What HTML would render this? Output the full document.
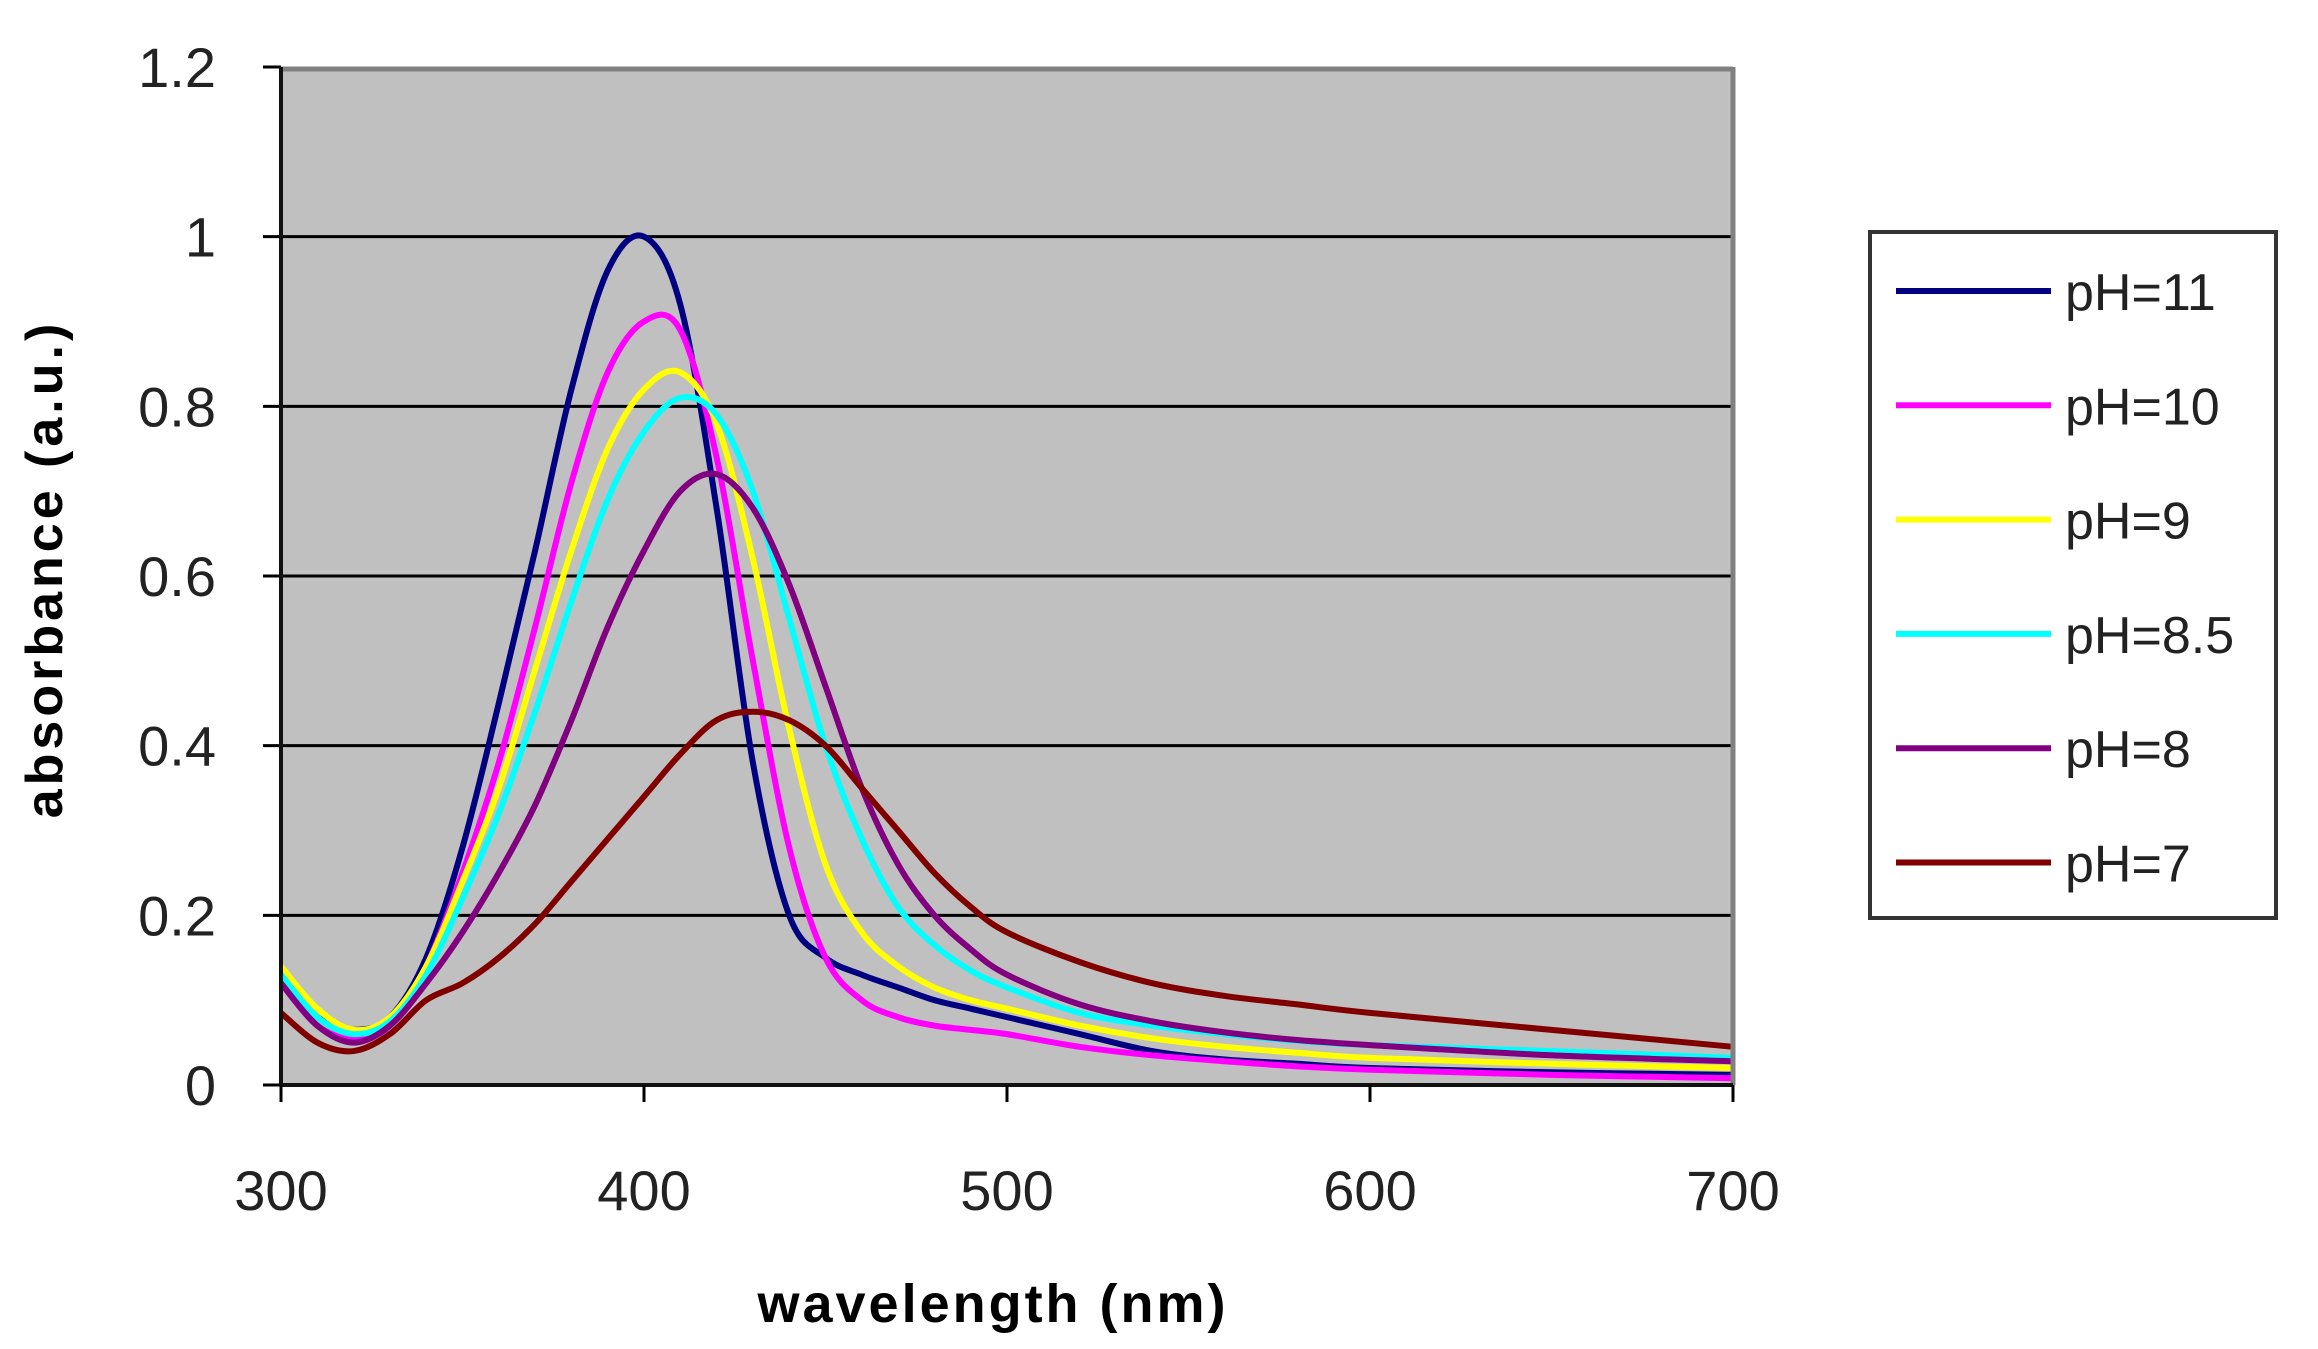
<!DOCTYPE html>
<html><head><meta charset="utf-8"><style>
html,body{margin:0;padding:0;background:#fff;}
svg{display:block;font-family:"Liberation Sans",Arial,sans-serif;}
</style></head><body>
<svg id="chart" width="2318" height="1349" viewBox="0 0 2318 1349">
<rect x="281" y="67" width="1452" height="1018" fill="#c0c0c0"/>
<g id="grid"></g><g id="series"></g><g id="axes"></g><g id="legend"></g>
<text x="62" y="569" transform="rotate(-90 62 569)" text-anchor="middle" font-weight="bold" font-size="52" letter-spacing="4" fill="#000">absorbance (a.u.)</text>
<text x="993" y="1322" text-anchor="middle" font-weight="bold" font-size="54" letter-spacing="3" fill="#000">wavelength (nm)</text>
</svg>
<script>
const wavelengths=[300,310,320,330,340,350,360,370,380,390,400,410,420,430,440,450,460,470,480,490,500,520,540,560,580,600,650,700];
const pH11=[0.12,0.08,0.065,0.08,0.15,0.28,0.45,0.63,0.82,0.96,1.0,0.92,0.68,0.38,0.2,0.15,0.13,0.115,0.1,0.09,0.08,0.06,0.04,0.03,0.025,0.02,0.015,0.012];
const pH10=[0.12,0.07,0.055,0.07,0.14,0.25,0.38,0.54,0.71,0.84,0.9,0.89,0.74,0.5,0.28,0.15,0.1,0.08,0.07,0.065,0.06,0.045,0.035,0.028,0.022,0.018,0.012,0.008];
const pH9=[0.14,0.09,0.065,0.08,0.14,0.24,0.35,0.49,0.63,0.75,0.82,0.84,0.78,0.62,0.42,0.26,0.18,0.14,0.115,0.1,0.09,0.07,0.055,0.045,0.038,0.032,0.025,0.02];
const pH85=[0.13,0.08,0.06,0.075,0.13,0.22,0.32,0.44,0.57,0.69,0.77,0.81,0.79,0.7,0.55,0.4,0.29,0.21,0.165,0.135,0.115,0.085,0.07,0.06,0.052,0.047,0.04,0.032];
const pH8=[0.12,0.07,0.05,0.07,0.12,0.18,0.25,0.33,0.43,0.54,0.63,0.7,0.72,0.68,0.59,0.47,0.35,0.26,0.2,0.16,0.13,0.095,0.075,0.062,0.053,0.047,0.035,0.028];
const pH7=[0.085,0.05,0.04,0.06,0.1,0.12,0.15,0.19,0.24,0.29,0.34,0.39,0.43,0.44,0.43,0.4,0.35,0.3,0.25,0.21,0.18,0.145,0.12,0.105,0.095,0.085,0.065,0.045];
const seriesNames=["pH=11","pH=10","pH=9","pH=8.5","pH=8","pH=7"];
const seriesColors=["#000080","#ff00ff","#ffff00","#00ffff","#800080","#800000"];
const yTicks=[0,0.2,0.4,0.6,0.8,1,1.2];
const yTickLabels=["0","0.2","0.4","0.6","0.8","1","1.2"];
const xTicks=[300,400,500,600,700];
const xTickLabels=["300","400","500","600","700"];
const allSeries=[pH11,pH10,pH9,pH85,pH8,pH7];

const L=281,R=1733,T=67,B=1085;
const xs=v=>L+(v-300)/400*(R-L);
const ys=v=>B-v/1.2*(B-T);
const NS="http://www.w3.org/2000/svg";
function mk(tag,attrs,parent){const e=document.createElementNS(NS,tag);for(const k in attrs)e.setAttribute(k,attrs[k]);parent.appendChild(e);return e;}
const grid=document.getElementById('grid'),axes=document.getElementById('axes'),ser=document.getElementById('series'),leg=document.getElementById('legend');

yTicks.forEach((t,i)=>{
  const y=ys(t);
  if(t>0&&t<1.2){const g=mk('line',{x1:L,x2:R,y1:y,y2:y,stroke:'#000','stroke-width':3},grid);
  
  }
  const tk=mk('line',{x1:263,x2:L,y1:y,y2:y,stroke:'#000','stroke-width':3},axes);
  
  
  const tx=mk('text',{x:216,y:y+20,'text-anchor':'end','font-size':56,fill:'#222'},axes);
  tx.textContent=yTickLabels[i];
  
  
});
const topb=mk('line',{x1:L,x2:R,y1:T+2,y2:T+2,stroke:'#808080','stroke-width':5},axes);


const rb=mk('line',{x1:R,x2:R,y1:T,y2:B,stroke:'#808080','stroke-width':5},axes);



allSeries.forEach((vals,si)=>{
  const p=vals.map((v,i)=>[xs(wavelengths[i]),ys(v)]);
  let d='M'+p[0][0]+','+p[0][1];
  for(let i=0;i<p.length-1;i++){
    const p0=p[Math.max(0,i-1)],p1=p[i],p2=p[i+1],p3=p[Math.min(p.length-1,i+2)];
    const c1=[p1[0]+(p2[0]-p0[0])/6,p1[1]+(p2[1]-p0[1])/6];
    const c2=[p2[0]-(p3[0]-p1[0])/6,p2[1]-(p3[1]-p1[1])/6];
    d+=' C'+c1[0]+','+c1[1]+' '+c2[0]+','+c2[1]+' '+p2[0]+','+p2[1];
  }
  const path=mk('path',{d:d,fill:'none',stroke:seriesColors[si],'stroke-width':6,'stroke-linejoin':'round'},ser);
  
  
});

const la=mk('line',{x1:L,x2:L,y1:T,y2:B,stroke:'#111','stroke-width':4},axes);


const ba=mk('line',{x1:L,x2:R,y1:B,y2:B,stroke:'#111','stroke-width':4},axes);


xTicks.forEach((t,i)=>{
  const x=xs(t);
  const tk=mk('line',{x1:x,x2:x,y1:B,y2:1102,stroke:'#000','stroke-width':3},axes);
  
  
  const tx=mk('text',{x:x,y:1210,'text-anchor':'middle','font-size':56,fill:'#222'},axes);
  tx.textContent=xTickLabels[i];
  
  
});

const box=mk('rect',{x:1870,y:232,width:406,height:686,fill:'#fff',stroke:'#333','stroke-width':4},leg);


seriesNames.forEach((n,i)=>{
  const y=291+i*114.3;
  const ln=mk('line',{x1:1896,x2:2051,y1:y,y2:y,stroke:seriesColors[i],'stroke-width':6},leg);
  
  
  const tx=mk('text',{x:2065,y:y+19,'font-size':52,fill:'#222'},leg);
  tx.textContent=n;
  
  
});
</script>
</body></html>
